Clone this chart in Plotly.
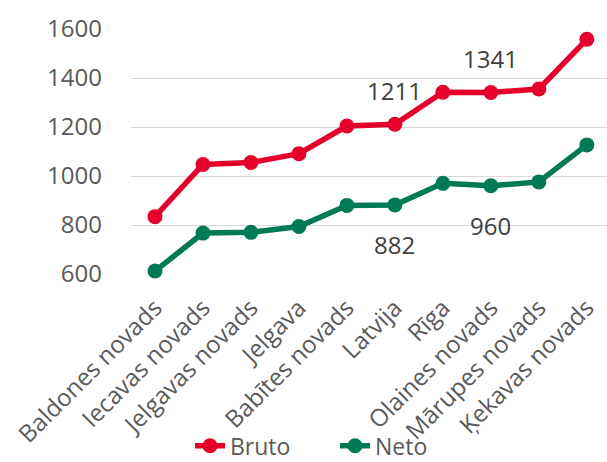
import plotly.graph_objects as go

# Average monthly wage by territory, EUR
territories = [
    "Baldones novads", "Iecavas novads", "Jelgavas novads", "Jelgava",
    "Babītes novads", "Latvija", "Rīga", "Olaines novads",
    "Mārupes novads", "Ķekavas novads",
]
bruto = [834, 1047, 1055, 1091, 1204, 1211, 1342, 1341, 1355, 1558]
neto = [612, 767, 770, 794, 880, 882, 970, 960, 976, 1127]

# Territories whose values are written on the chart
labelled = ["Latvija", "Olaines novads"]

y_ticks = [600, 800, 1000, 1200, 1400, 1600]

RED = "#E4002B"
GREEN = "#007A55"
FONT = "Open Sans"

fig = go.Figure()
fig.add_trace(go.Scatter(
    x=territories, y=bruto, name="Bruto", mode="lines+markers",
    line=dict(color=RED, width=5.5), marker=dict(color=RED, size=15),
    cliponaxis=False,
))
fig.add_trace(go.Scatter(
    x=territories, y=neto, name="Neto", mode="lines+markers",
    line=dict(color=GREEN, width=5.5), marker=dict(color=GREEN, size=15),
    cliponaxis=False,
))

for name in labelled:
    i = territories.index(name)
    fig.add_annotation(x=name, y=bruto[i], text=str(bruto[i]), showarrow=False,
                       yshift=34, font=dict(family=FONT, size=24, color="#404040"))
    fig.add_annotation(x=name, y=neto[i], text=str(neto[i]), showarrow=False,
                       yshift=-40, font=dict(family=FONT, size=24, color="#404040"))

fig.update_layout(
    width=607, height=462,
    margin=dict(l=131, r=0, t=29, b=188),
    paper_bgcolor="white", plot_bgcolor="white",
    font=dict(family=FONT, color="#595959"),
    showlegend=True,
    legend=dict(
        orientation="h", xref="container", yref="container",
        x=190 / 607, xanchor="left", y=0.035, yanchor="middle",
        font=dict(family=FONT, size=23, color="#595959"),
        entrywidth=100, entrywidthmode="pixels",
        traceorder="normal", bgcolor="rgba(0,0,0,0)",
    ),
)
fig.update_xaxes(
    type="category", range=[-0.5, 9.42], showgrid=False, showline=False,
    tickangle=-45, tickfont=dict(family=FONT, size=24, color="#595959"),
    ticks="", ticklabelstandoff=14, automargin=False,
)
fig.update_yaxes(
    range=[600, 1600], tickvals=y_ticks, showgrid=True,
    gridcolor="#D9D9D9", gridwidth=1.3, zeroline=False, showline=False,
    tickfont=dict(family=FONT, size=24, color="#595959"),
    ticklabelstandoff=28, automargin=False,
)

fig.write_html("out.html")
